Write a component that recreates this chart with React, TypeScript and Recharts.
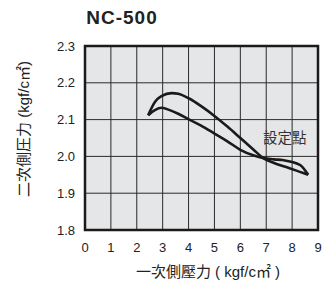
import {
  LineChart,
  Line,
  XAxis,
  YAxis,
  CartesianGrid,
  ReferenceArea,
  ReferenceDot,
} from "recharts";

// 一次側壓力 (x) vs 二次側圧力 (y), the loop drawn as two branches
const upperX = [2.44, 2.7, 2.95, 3.35, 3.6, 4.0, 4.5, 5.0, 5.5, 6.0, 6.5, 6.87, 7.3, 7.9, 8.3, 8.62];
const upperY = [2.112, 2.148, 2.164, 2.172, 2.17, 2.158, 2.136, 2.11, 2.081, 2.05, 2.019, 1.996, 1.982, 1.968, 1.958, 1.95];
const lowerX = [2.44, 2.7, 2.96, 3.3, 3.6, 4.05, 4.5, 5.0, 5.5, 6.0, 6.5, 6.87, 7.3, 7.64, 8.3, 8.62];
const lowerY = [2.112, 2.126, 2.132, 2.125, 2.116, 2.099, 2.083, 2.062, 2.041, 2.018, 2.003, 1.996, 1.992, 1.99, 1.977, 1.95];

const xTicks = [0, 1, 2, 3, 4, 5, 6, 7, 8, 9];
const yTicks = [1.8, 1.9, 2.0, 2.1, 2.2, 2.3];

const upper = upperX.map((x, i) => ({ x, y: upperY[i] }));
const lower = lowerX.map((x, i) => ({ x, y: lowerY[i] }));

const font = '"Liberation Sans", Arial, "Noto Sans CJK TC", sans-serif';
const ink = "#222";

export default function App() {
  return (
    <div style={{ position: "absolute", left: 0, top: 0, width: 326, height: 281, fontFamily: font }}>
      <div
        style={{
          position: "absolute",
          left: 0,
          width: 244,
          top: 7,
          textAlign: "center",
          fontSize: 19,
          fontWeight: "bold",
          letterSpacing: 1,
          color: ink,
        }}
      >
        NC-500
      </div>
      <LineChart
        width={326}
        height={281}
        margin={{ top: 46, right: 8, left: 0, bottom: 0 }}
      >
        <CartesianGrid stroke="#2a2a2a" strokeWidth={1} fill="#e5e6e7" />
        <XAxis
          type="number"
          dataKey="x"
          domain={[0, 9]}
          ticks={xTicks}
          height={51}
          axisLine={false}
          tickLine={false}
          tickSize={0}
          tickMargin={13}
          tick={{ fill: ink, fontSize: 13, fontFamily: font }}
          label={{
            content: () => (
              <text x={208} y={271} textAnchor="middle" dominantBaseline="central" fill={ink} fontSize={15} fontFamily={font}>
                一次側壓力 ( kgf/c㎡ )
              </text>
            ),
          }}
        />
        <YAxis
          type="number"
          domain={[1.8, 2.3]}
          ticks={yTicks}
          width={85}
          axisLine={false}
          tickLine={false}
          tickSize={0}
          tickMargin={10}
          tickFormatter={(v: number) => v.toFixed(1)}
          tick={{ fill: ink, fontSize: 13, fontFamily: font }}
          label={{
            content: () => (
              <text
                x={23}
                y={129}
                transform="rotate(-90 23 129)"
                textAnchor="middle"
                dominantBaseline="central"
                fill={ink}
                fontSize={15}
                fontFamily={font}
              >
                二次側圧力 (kgf/c㎡)
              </text>
            ),
          }}
        />
        <ReferenceArea x1={0} x2={9} y1={1.8} y2={2.3} fill="none" stroke="#1a1a1a" strokeWidth={2.5} />
        <Line data={upper} dataKey="y" type="monotone" stroke="#1a1a1a" strokeWidth={2.6} dot={false} isAnimationActive={false} />
        <Line data={lower} dataKey="y" type="monotone" stroke="#1a1a1a" strokeWidth={2.6} dot={false} isAnimationActive={false} />
        <ReferenceDot
          x={7.72}
          y={2.05}
          r={0}
          fill="none"
          stroke="none"
          label={{ value: "設定點", position: "center", fill: "#333", fontSize: 14.5, fontFamily: font }}
        />
      </LineChart>
    </div>
  );
}
